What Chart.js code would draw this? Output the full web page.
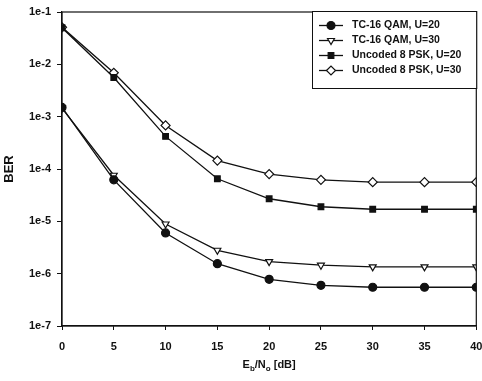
<!DOCTYPE html>
<html>
<head>
<meta charset="utf-8">
<script src="https://cdn.jsdelivr.net/npm/chart.js@4/dist/chart.umd.min.js"></script>
<style>
  html, body { margin: 0; padding: 0; background: #fff; }
  #wrap { width: 482px; height: 381px; position: relative; }
</style>
</head>
<body>
<div id="wrap"><canvas id="ber-chart"></canvas></div>
<script>
// E_b/N_o values (dB)
const snrDb = [0, 5, 10, 15, 20, 25, 30, 35, 40];

// BER curves
const tc16U20 = [1.5e-3, 6.2e-5, 6.0e-6, 1.55e-6, 7.8e-7, 6.0e-7, 5.5e-7, 5.5e-7, 5.5e-7];
const tc16U30 = [1.45e-3, 7.6e-5, 8.9e-6, 2.8e-6, 1.7e-6, 1.45e-6, 1.35e-6, 1.35e-6, 1.35e-6];
const psk8U20 = [5.0e-2, 5.6e-3, 4.2e-4, 6.5e-5, 2.7e-5, 1.9e-5, 1.7e-5, 1.7e-5, 1.7e-5];
const psk8U30 = [5.1e-2, 6.9e-3, 6.8e-4, 1.45e-4, 8.0e-5, 6.2e-5, 5.6e-5, 5.6e-5, 5.6e-5];

const seriesLabels = ['TC-16 QAM, U=20', 'TC-16 QAM, U=30', 'Uncoded 8 PSK, U=20', 'Uncoded 8 PSK, U=30'];

// y-axis decades and their labels
const berTicks = [1e-7, 1e-6, 1e-5, 1e-4, 1e-3, 1e-2, 1e-1];
const berTickLabels = ['1e-7', '1e-6', '1e-5', '1e-4', '1e-3', '1e-2', '1e-1'];

const FONT = "'Liberation Sans', Arial, sans-serif";

function toPoints(ys) {
    return snrDb.map((x, i) => ({ x: x, y: ys[i] }));
}

function makeSet(label, ys, style, fill, rotation) {
    return {
        label: label,
        data: toPoints(ys),
        borderColor: '#111',
        borderWidth: 1.3,
        tension: 0,
        fill: false,
        pointStyle: style,
        pointRotation: rotation || 0,
        pointRadius: style === 'rectRot' ? 4.5 : 4,
        pointBackgroundColor: fill,
        pointBorderColor: '#111',
        pointBorderWidth: 1.2
    };
}

// framed legend in the top right, line + marker samples
const boxLegend = {
    id: 'boxLegend',
    afterDraw(chart) {
        const ctx = chart.ctx;
        const area = chart.chartArea;
        const left = 312, top = area.top - 1, right = area.right, bottom = 88;
        ctx.save();
        ctx.fillStyle = '#fff';
        ctx.fillRect(left, top, right - left, bottom - top);
        ctx.strokeStyle = '#111';
        ctx.lineWidth = 1;
        ctx.strokeRect(left + 0.5, top + 0.5, right - left, bottom - top);
        ctx.font = 'bold 10.5px ' + FONT;
        ctx.textBaseline = 'middle';
        chart.data.datasets.forEach((ds, i) => {
            const y = 25.5 + i * 15;
            ctx.strokeStyle = '#111';
            ctx.lineWidth = 1.3;
            ctx.beginPath();
            ctx.moveTo(319, y);
            ctx.lineTo(343, y);
            ctx.stroke();
            ctx.fillStyle = ds.pointBackgroundColor;
            ctx.lineWidth = 1.2;
            Chart.helpers.drawPoint(ctx, {
                pointStyle: ds.pointStyle,
                radius: ds.pointRadius,
                rotation: ds.pointRotation,
                borderWidth: 1.2
            }, 331, y);
            ctx.fillStyle = '#111';
            ctx.fillText(ds.label, 352, y);
        });
        ctx.restore();
    }
};

// closing frame and the x title with subscripts
const frameAndTitle = {
    id: 'frameAndTitle',
    afterDatasetsDraw(chart) {
        const ctx = chart.ctx;
        const a = chart.chartArea;
        ctx.save();
        ctx.strokeStyle = '#111';
        ctx.lineWidth = 1.2;
        ctx.strokeRect(a.left, a.top, a.right - a.left, a.bottom - a.top);
        ctx.restore();
    },
    afterDraw(chart) {
        const ctx = chart.ctx;
        const a = chart.chartArea;
        const parts = [
            ['E', false], ['b', true], ['/N', false], ['o', true], [' [dB]', false]
        ];
        const big = 'bold 11px ' + FONT, small = 'bold 8px ' + FONT;
        ctx.save();
        ctx.fillStyle = '#111';
        ctx.textBaseline = 'alphabetic';
        let total = 0;
        parts.forEach(p => { ctx.font = p[1] ? small : big; total += ctx.measureText(p[0]).width; });
        let x = (a.left + a.right) / 2 - total / 2;
        const base = 368;
        parts.forEach(p => {
            ctx.font = p[1] ? small : big;
            ctx.fillText(p[0], x, p[1] ? base + 3 : base);
            x += ctx.measureText(p[0]).width;
        });
        ctx.restore();
    }
};

const berCtx = document.getElementById('ber-chart').getContext('2d');
const berChart = new Chart(berCtx, {
    type: 'line',
    data: {
        datasets: [
            makeSet(seriesLabels[0], tc16U20, 'circle', '#111'),
            makeSet(seriesLabels[1], tc16U30, 'triangle', '#fff', 180),
            makeSet(seriesLabels[2], psk8U20, 'rect', '#111'),
            makeSet(seriesLabels[3], psk8U30, 'rectRot', '#fff')
        ]
    },
    options: {
        responsive: true,
        maintainAspectRatio: false,
        animation: false,
        layout: {
            padding: { top: 12, right: 5, left: 0, bottom: 0 }
        },
        plugins: {
            legend: { display: false },
            tooltip: { enabled: false }
        },
        scales: {
            x: {
                type: 'linear',
                min: 0,
                max: 40,
                ticks: {
                    stepSize: 5,
                    color: '#111',
                    padding: 10,
                    maxRotation: 0,
                    font: { family: FONT, size: 11, weight: 'bold' }
                },
                grid: {
                    drawOnChartArea: false,
                    drawTicks: true,
                    tickLength: 4,
                    color: '#111'
                },
                border: { display: true, color: '#111', width: 1.2 },
                afterFit: function(scale) {
                    scale.height = 55;
                    scale.paddingRight = 0;
                    scale.paddingLeft = 0;
                }
            },
            y: {
                type: 'logarithmic',
                min: 1e-7,
                max: 1e-1,
                afterBuildTicks: function(scale) {
                    scale.ticks = berTicks.map(v => ({ value: v }));
                },
                ticks: {
                    color: '#111',
                    padding: 6,
                    font: { family: FONT, size: 11, weight: 'bold' },
                    callback: function(value) {
                        const i = berTicks.findIndex(t => Math.abs(t - value) / t < 1e-6);
                        return i >= 0 ? berTickLabels[i] : '';
                    }
                },
                grid: {
                    drawOnChartArea: false,
                    drawTicks: true,
                    tickLength: 5,
                    color: '#111'
                },
                border: { display: true, color: '#111', width: 1.2 },
                title: {
                    display: true,
                    text: 'BER',
                    color: '#111',
                    padding: { top: 2, bottom: 0 },
                    font: { family: FONT, size: 13, weight: 'bold' }
                },
                afterFit: function(scale) {
                    scale.width = 62;
                    scale.paddingTop = 0;
                    scale.paddingBottom = 0;
                }
            }
        }
    },
    plugins: [frameAndTitle, boxLegend]
});
</script>
</body>
</html>
